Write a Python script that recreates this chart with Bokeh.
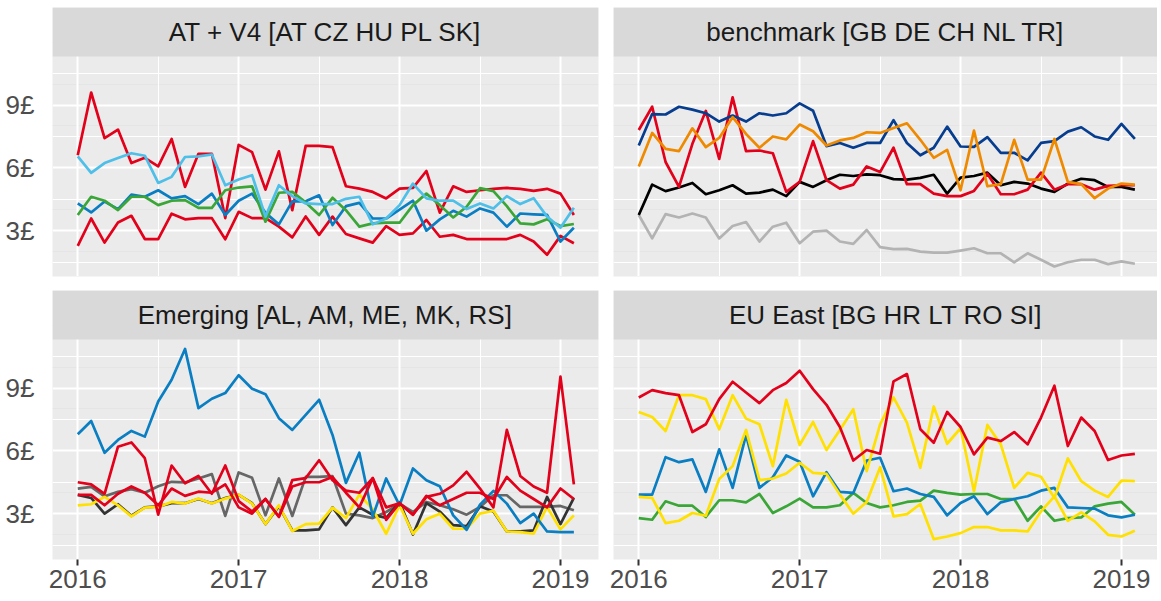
from bokeh.plotting import figure
from bokeh.models import Range1d, FixedTicker, LinearAxis, Grid
from bokeh.layouts import column, row
from bokeh.embed import file_html
from bokeh.resources import INLINE
from bokeh.core.properties import value

# ---------------- data ----------------
START_YEAR = 2016          # first month: Jan 2016, monthly to Feb 2019
N_MONTHS = 38
YEAR_TICKS = [2016, 2017, 2018, 2019]
YEAR_LABELS = ["2016", "2017", "2018", "2019"]
Y_TICKS = [3, 6, 9]
Y_LABELS = ["3£", "6£", "9£"]

TITLES = ["AT + V4 [AT CZ HU PL SK]", "benchmark [GB DE CH NL TR]",
          "Emerging [AL, AM, ME, MK, RS]", "EU East [BG HR LT RO SI]"]

# AT + V4
at_red_hi = [6.6, 9.6, 7.42, 7.83, 6.23, 6.48, 6.07, 7.38, 5.09, 6.67, 6.67, 3.6, 7.1, 6.75, 4.96, 6.79, 3.98, 7.05, 7.05, 6.99,
             5.12, 5.01, 4.85, 4.54, 5.01, 5.04, 5.85, 3.86, 5.12, 4.85, 4.93, 5.0, 5.04, 5.0, 4.9, 5.0, 4.77, 3.75]
at_red_lo = [2.27, 3.58, 2.43, 3.39, 3.71, 2.6, 2.6, 3.81, 3.54, 3.6, 3.6, 2.59, 3.9, 3.6, 3.6, 3.19, 2.68, 3.68, 2.8, 3.67,
             2.84, 2.63, 2.43, 3.22, 2.8, 2.87, 3.51, 2.71, 2.8, 2.6, 2.6, 2.6, 2.6, 2.8, 2.48, 1.85, 2.75, 2.4]
at_blue = [4.3, 3.87, 4.39, 4.03, 4.72, 4.62, 4.93, 4.54, 4.65, 4.27, 4.77, 3.75, 4.43, 4.77, 3.85, 3.3, 4.4, 4.4, 4.69, 3.27,
           4.17, 4.33, 3.58, 3.58, 4.01, 4.43, 3.0, 3.54, 3.95, 3.67, 4.06, 3.86, 3.19, 3.82, 3.78, 3.75, 2.48, 3.14]
at_green = [3.75, 4.62, 4.43, 3.98, 4.62, 4.62, 4.22, 4.43, 4.46, 4.09, 4.09, 4.93, 5.06, 5.12, 3.43, 4.81, 4.85, 4.35, 3.75, 4.57,
            3.98, 3.19, 3.35, 3.38, 3.38, 4.22, 4.77, 4.22, 3.63, 4.14, 5.03, 4.89, 4.17, 3.35, 3.3, 3.54, 3.22, 3.32]
at_lightblue = [6.55, 5.76, 6.23, 6.47, 6.7, 6.58, 5.28, 5.57, 6.52, 6.55, 6.64, 5.17, 5.44, 5.65, 3.67, 5.17, 4.65, 4.3, 4.27, 4.27,
                4.52, 4.62, 3.3, 3.58, 4.22, 5.25, 4.54, 4.43, 4.43, 4.03, 4.3, 4.06, 4.65, 4.27, 4.55, 3.67, 3.14, 4.09]

# benchmark
bm_grey = [3.75, 2.63, 3.79, 3.63, 3.82, 3.63, 2.63, 3.22, 3.41, 2.48, 3.19, 3.38, 2.4, 2.95, 3.0, 2.48, 2.37, 3.03, 2.21, 2.12,
           2.13, 2.0, 1.95, 1.95, 2.05, 2.16, 1.92, 1.92, 1.49, 1.92, 1.61, 1.29, 1.49, 1.61, 1.61, 1.4, 1.53, 1.42]
bm_black = [3.75, 5.2, 4.89, 5.06, 5.28, 4.74, 4.93, 5.17, 4.77, 4.82, 4.96, 4.65, 5.33, 5.09, 5.41, 5.67, 5.61, 5.69, 5.65, 5.46,
            5.44, 5.52, 5.67, 4.77, 5.53, 5.61, 5.77, 5.17, 5.33, 5.25, 5.01, 4.85, 5.25, 5.48, 5.41, 5.09, 5.09, 4.96]
bm_red = [7.81, 8.92, 6.28, 5.09, 7.15, 8.72, 6.43, 9.37, 6.8, 6.83, 6.7, 4.85, 5.33, 7.28, 5.41, 5.01, 5.2, 6.07, 5.8, 6.96,
          5.22, 5.22, 4.77, 4.65, 4.65, 4.9, 5.72, 4.74, 4.74, 4.96, 5.77, 4.96, 5.22, 5.22, 4.96, 5.14, 5.17, 5.17]
bm_navy = [7.07, 8.57, 8.55, 8.92, 8.78, 8.61, 8.21, 8.5, 8.21, 8.61, 8.5, 8.61, 9.08, 8.73, 7.04, 7.19, 6.96, 7.19, 7.19, 8.28,
           7.19, 6.6, 6.96, 7.97, 7.02, 7.0, 7.47, 6.72, 6.72, 6.36, 7.19, 7.28, 7.73, 7.94, 7.5, 7.34, 8.1, 7.38]
bm_orange = [6.07, 7.67, 6.91, 6.8, 7.89, 6.99, 7.43, 8.42, 7.62, 6.96, 7.5, 7.36, 8.07, 7.75, 7.07, 7.31, 7.43, 7.7, 7.67, 7.9,
             8.13, 7.34, 6.48, 6.86, 4.93, 7.78, 5.12, 5.22, 7.34, 5.44, 5.44, 7.38, 5.33, 5.22, 4.55, 5.01, 5.25, 5.2]

# Emerging
em_grey = [4.2, 4.28, 3.83, 4.04, 4.17, 4.0, 4.31, 4.52, 4.49, 4.68, 4.89, 2.89, 4.97, 4.71, 2.92, 4.68, 2.89, 4.76, 4.76, 4.79,
           3.0, 2.92, 2.79, 3.08, 3.48, 3.08, 3.56, 3.4, 3.21, 2.95, 3.32, 3.88, 3.88, 3.32, 3.32, 3.32, 3.37, 3.16]
em_dark = [3.9, 3.75, 3.0, 3.45, 2.9, 3.3, 3.35, 3.5, 3.5, 3.7, 3.5, 3.75, 3.9, 3.5, 2.5, 3.35, 2.2, 2.2, 2.25, 3.3,
           2.45, 3.3, 2.95, 2.8, 3.55, 2.0, 3.5, 3.1, 2.45, 2.4, 3.35, 3.1, 2.15, 2.15, 2.2, 3.8, 2.5, 3.75]
em_yellow = [3.4, 3.45, 3.8, 3.4, 2.87, 3.29, 3.32, 3.56, 3.48, 3.72, 3.48, 3.72, 3.91, 3.48, 2.5, 3.4, 2.17, 2.5, 2.52, 3.29,
             2.79, 3.91, 3.21, 2.04, 3.4, 2.04, 2.73, 3.0, 2.28, 2.28, 3.0, 3.14, 2.15, 2.12, 2.04, 3.32, 2.25, 2.92]
em_blue = [6.79, 7.43, 5.91, 6.52, 6.95, 6.68, 8.36, 9.4, 10.87, 8.04, 8.49, 8.76, 9.61, 8.97, 8.71, 7.56, 7.0, 7.72, 8.44, 6.76,
           4.47, 5.91, 2.87, 4.68, 3.4, 5.16, 4.6, 4.31, 2.92, 2.23, 3.43, 4.09, 3.48, 2.55, 3.0, 2.15, 2.12, 2.12]
em_red_b = [3.9, 3.9, 3.4, 3.95, 4.3, 4.0, 3.4, 4.2, 3.85, 4.05, 4.0, 4.4, 3.3, 3.0, 3.7, 2.85, 4.3, 4.5, 4.5, 4.75,
            4.0, 3.3, 4.7, 3.3, 3.5, 2.95, 3.85, 3.4, 3.7, 4.0, 4.0, 3.7, 4.75, 4.1, 3.7, 3.3, 4.2, 3.7]
em_red_a = [4.5, 4.4, 3.95, 6.2, 6.4, 5.65, 2.95, 5.3, 4.45, 4.8, 3.95, 5.3, 3.6, 3.1, 3.7, 2.85, 4.6, 4.7, 5.55, 4.6,
            4.1, 4.0, 4.7, 2.7, 3.5, 2.95, 3.8, 3.95, 4.35, 5.0, 4.2, 3.3, 7.0, 4.8, 4.3, 4.0, 9.55, 4.4]

# EU East
eu_green = [2.79, 2.71, 3.59, 3.38, 3.38, 2.84, 3.64, 3.64, 3.54, 3.94, 3.03, 3.35, 3.72, 3.3, 3.3, 3.4, 3.99, 3.51, 3.3, 3.4,
            3.56, 3.62, 4.1, 3.99, 3.91, 3.94, 3.94, 3.7, 3.7, 2.66, 3.35, 2.66, 2.79, 2.82, 3.35, 3.48, 3.56, 2.95]
eu_blue = [3.91, 3.91, 5.7, 5.46, 5.59, 4.04, 6.07, 4.23, 6.76, 4.23, 4.74, 5.78, 5.48, 3.83, 4.98, 4.04, 3.99, 5.54, 5.67, 4.07,
           4.2, 3.94, 3.8, 2.92, 3.51, 3.83, 2.98, 3.54, 3.7, 3.83, 4.1, 4.23, 3.3, 3.27, 3.24, 2.92, 2.82, 2.95]
eu_yellow_lo = [3.8, 3.75, 2.55, 2.66, 3.03, 2.9, 4.66, 5.27, 7.0, 4.6, 4.68, 4.92, 5.43, 4.95, 4.9, 3.91, 3.0, 3.56, 5.22, 2.87,
                2.98, 3.46, 1.78, 1.91, 2.07, 2.36, 2.36, 2.2, 2.2, 2.15, 3.11, 3.83, 2.66, 3.06, 2.63, 1.99, 1.91, 2.18]
eu_yellow_hi = [7.86, 7.62, 6.95, 8.66, 8.66, 8.47, 7.03, 8.66, 7.54, 7.27, 5.27, 8.44, 6.28, 7.38, 6.04, 7.0, 7.99, 5.03, 7.27, 8.55,
                7.35, 5.19, 8.12, 6.34, 7.08, 4.07, 7.24, 6.31, 4.23, 4.95, 4.76, 3.75, 5.64, 4.55, 4.1, 3.8, 4.58, 4.55]
eu_red = [8.55, 8.9, 8.76, 8.66, 6.9, 7.27, 8.47, 9.3, 8.79, 8.28, 8.9, 9.24, 9.83, 8.95, 8.2, 7.14, 5.54, 6.04, 5.86, 9.32,
          9.67, 7.03, 6.39, 7.86, 7.14, 5.83, 6.63, 6.47, 6.9, 6.31, 7.59, 9.11, 6.23, 7.59, 6.95, 5.56, 5.78, 5.86]

# ---------------- style ----------------
RED, BLUE, LBLUE, GREEN = "#E2001A", "#0A7EC2", "#4EBFE8", "#3AA637"
NAVY, ORANGE, BLACK, LGREY = "#073D8E", "#EF8A00", "#000000", "#B3B3B3"
YELLOW, DGREY, MGREY = "#FFE000", "#333333", "#666666"

PANELS = [
    (TITLES[0], [(at_red_hi, RED), (at_red_lo, RED), (at_blue, BLUE), (at_green, GREEN), (at_lightblue, LBLUE)]),
    (TITLES[1], [(bm_grey, LGREY), (bm_black, BLACK), (bm_red, RED), (bm_navy, NAVY), (bm_orange, ORANGE)]),
    (TITLES[2], [(em_grey, MGREY), (em_dark, DGREY), (em_yellow, YELLOW), (em_blue, BLUE), (em_red_b, RED), (em_red_a, RED)]),
    (TITLES[3], [(eu_green, GREEN), (eu_blue, BLUE), (eu_yellow_lo, YELLOW), (eu_yellow_hi, YELLOW), (eu_red, RED)]),
]

XS = [START_YEAR + i / 12 for i in range(N_MONTHS)]
PX_PER_YEAR = 160.9
X0 = 2015.843
FRAME_H = 269
PANEL_H = 220
Y0, Y1 = 0.81, 11.32
STRIP = (Y1 - Y0) * (FRAME_H - PANEL_H) / PANEL_H
YTOP = Y1 + STRIP
FONT = "Liberation Sans"
FS = "26px"

x_minor = [(a + b) / 2 for a, b in zip(YEAR_TICKS[:-1], YEAR_TICKS[1:])]
y_minor = [t - 1.5 for t in Y_TICKS] + [Y_TICKS[-1] + 1.5]


def make_panel(title, series, left, bottom):
    fw = 546 if left else 544
    bl, br = (52, 7) if left else (8, 0)
    bt, bb = (7, 39) if bottom else (7, 7)
    x1 = X0 + fw / PX_PER_YEAR
    p = figure(width=bl + fw + br, height=bt + FRAME_H + bb,
               x_range=Range1d(X0, x1), y_range=Range1d(Y0, YTOP),
               x_axis_location=None, y_axis_location=None,
               toolbar_location=None, output_backend="svg",
               min_border_left=bl, min_border_right=br,
               min_border_top=bt, min_border_bottom=bb,
               background_fill_color="#EBEBEB", border_fill_color="white",
               outline_line_color=None)
    xt = FixedTicker(ticks=YEAR_TICKS, minor_ticks=x_minor)
    yt = FixedTicker(ticks=Y_TICKS, minor_ticks=y_minor)
    for dim, tk in ((0, xt), (1, yt)):
        p.add_layout(Grid(dimension=dim, ticker=tk, grid_line_color="white", grid_line_width=2,
                          minor_grid_line_color="white", minor_grid_line_width=1))
    if left:
        ya = LinearAxis(ticker=yt, major_label_overrides=dict(zip(Y_TICKS, Y_LABELS)),
                        axis_line_color=None, major_tick_line_color=None, minor_tick_line_color=None,
                        major_tick_out=0, major_tick_in=0, major_label_standoff=14,
                        major_label_text_font=FONT, major_label_text_font_size=FS,
                        major_label_text_color="#4D4D4D")
        p.add_layout(ya, "left")
    if bottom:
        xa = LinearAxis(ticker=xt, major_label_overrides=dict(zip(YEAR_TICKS, YEAR_LABELS)),
                        axis_line_color=None, major_tick_line_color="#333333", major_tick_line_width=2,
                        minor_tick_line_color=None, major_tick_out=6, major_tick_in=0,
                        major_label_standoff=4,
                        major_label_text_font=FONT, major_label_text_font_size=FS,
                        major_label_text_color="#4D4D4D")
        p.add_layout(xa, "below")
    # facet strip
    p.quad(left=X0, right=x1, bottom=Y1, top=YTOP, fill_color="#D9D9D9", line_color=None)
    p.text(x=[(X0 + x1) / 2], y=[Y1 + STRIP / 2], text=[title], text_align="center",
           text_baseline="middle", text_font=value(FONT), text_font_size=FS, text_color="#1A1A1A")
    for vals, col in series:
        p.line(x=XS, y=vals, line_color=col, line_width=2.7, line_join="round")
    return p


figs = [make_panel(t, s, left=(i % 2 == 0), bottom=(i >= 2)) for i, (t, s) in enumerate(PANELS)]
layout = column(row(figs[0], figs[1]), row(figs[2], figs[3]))

open("out.html", "w").write(file_html(layout, INLINE))
